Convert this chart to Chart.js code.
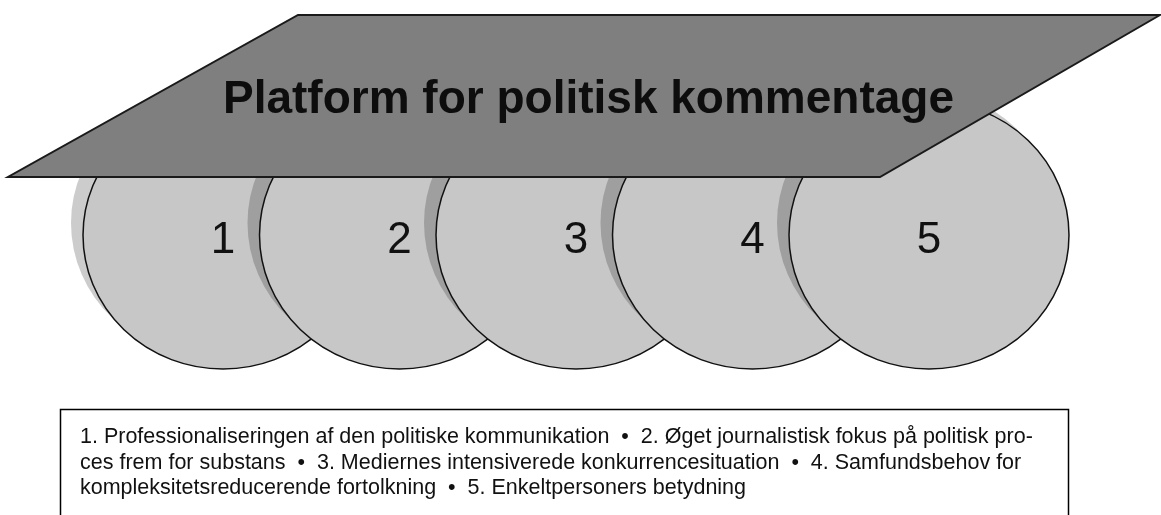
<!DOCTYPE html>
<html>
<head>
<meta charset="utf-8">
<script src="https://cdn.jsdelivr.net/npm/chart.js@4"></script>
<style>
  html, body { margin: 0; padding: 0; background: #fff; }
  #wrap { width: 1161px; height: 515px; position: relative; }
</style>
</head>
<body>
<div id="wrap"><canvas id="diagram"></canvas></div>
<script>
  const title = "Platform for politisk kommentage";
  const factorNumbers = [1, 2, 3, 4, 5];
  const factorLabels = [
    "Professionaliseringen af den politiske kommunikation",
    "Øget journalistisk fokus på politisk pro\u00ADces frem for substans",
    "Mediernes intensiverede konkurrencesituation",
    "Samfundsbehov for kompleksitetsreducerende fortolkning",
    "Enkeltpersoners betydning",
  ];

  // disc geometry (px)
  const RX = 140;
  const RY = 134;
  const SHADOW_DX = -12;
  const SHADOW_DY = -12;

  function wrapText(ctx, text, maxW) {
    const words = text.split(" ");
    const lines = [];
    let line = "";
    words.forEach((word) => {
      const clean = word.replace(/\u00AD/g, "");
      const test = line === "" ? clean : line + " " + clean;
      if (ctx.measureText(test).width <= maxW) {
        line = test;
        return;
      }
      if (word.indexOf("\u00AD") > -1) {
        const parts = word.split("\u00AD");
        const head = line + " " + parts[0] + "-";
        if (ctx.measureText(head).width <= maxW) {
          lines.push(head);
          line = parts.slice(1).join("");
          return;
        }
      }
      lines.push(line);
      line = clean;
    });
    if (line) lines.push(line);
    return lines.map((l) => l.trim());
  }

  const diagramPlugin = {
    id: "diagram",
    afterDatasetsDraw(chart) {
      const ctx = chart.ctx;
      const meta = chart.getDatasetMeta(0);
      ctx.save();

      meta.data.forEach((pt, i) => {
        ctx.beginPath();
        ctx.ellipse(pt.x + SHADOW_DX, pt.y + SHADOW_DY, RX, RY, 0, 0, Math.PI * 2);
        ctx.fillStyle = "rgba(0,0,0,0.2)";
        ctx.fill();

        ctx.beginPath();
        ctx.ellipse(pt.x, pt.y, RX, RY, 0, 0, Math.PI * 2);
        ctx.fillStyle = "#c8c7c8";
        ctx.fill();
        ctx.lineWidth = 1.5;
        ctx.strokeStyle = "#111";
        ctx.stroke();

        ctx.fillStyle = "#111";
        ctx.font = "44px 'Liberation Sans', Arial, sans-serif";
        ctx.textAlign = "center";
        ctx.textBaseline = "alphabetic";
        ctx.fillText(String(factorNumbers[i]), pt.x, pt.y + 18);
      });

      // the platform
      ctx.beginPath();
      ctx.moveTo(298, 15);
      ctx.lineTo(1160, 15);
      ctx.lineTo(880, 177);
      ctx.lineTo(8, 177);
      ctx.closePath();
      ctx.fillStyle = "#807f80";
      ctx.fill();
      ctx.lineWidth = 2;
      ctx.strokeStyle = "#1a1a1a";
      ctx.stroke();

      ctx.fillStyle = "#0d0d0d";
      ctx.font = "bold 46px 'Liberation Sans', Arial, sans-serif";
      ctx.textAlign = "left";
      ctx.fillText(title, 223, 113);

      // legend box
      ctx.lineWidth = 1.5;
      ctx.strokeStyle = "#000";
      ctx.strokeRect(60.5, 409.5, 1008, 200);

      const legendText = factorNumbers
        .map((n, i) => n + ". " + factorLabels[i])
        .join("  \u2022  ");
      ctx.font = "21.5px 'Liberation Sans', Arial, sans-serif";
      ctx.fillStyle = "#111";
      const lines = wrapText(ctx, legendText, 968);
      lines.forEach((l, i) => {
        ctx.fillText(l, 80, 443 + i * 25.5);
      });

      ctx.restore();
    },
  };

  new Chart(document.getElementById("diagram"), {
    type: "scatter",
    data: {
      datasets: [
        {
          data: factorNumbers.map((n) => ({ x: n, y: 0 })),
          pointRadius: 0,
          pointHoverRadius: 0,
        },
      ],
    },
    options: {
      responsive: true,
      maintainAspectRatio: false,
      animation: false,
      events: [],
      layout: { padding: 0 },
      plugins: {
        legend: { display: false },
        tooltip: { enabled: false },
      },
      scales: {
        x: { type: "linear", display: false, min: 1 - 223 / 176.5, max: 1 + 938 / 176.5 },
        y: { type: "linear", display: false, min: -280, max: 235 },
      },
    },
    plugins: [diagramPlugin],
  });
</script>
</body>
</html>
